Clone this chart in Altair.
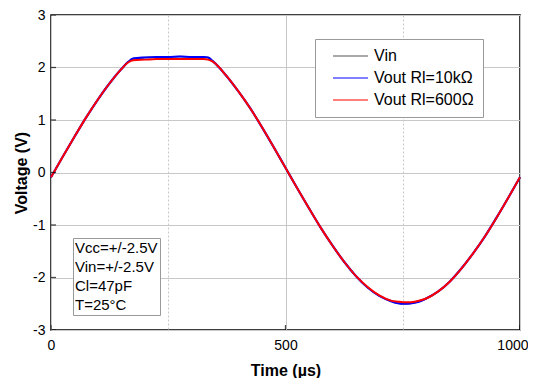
import altair as alt
import pandas as pd

# ---- data ----
time_us = [0, 25, 50, 75, 100, 125, 150, 165, 175, 200, 225, 250, 275, 300, 325, 335, 345,
           375, 400, 425, 450, 475, 500, 525, 550, 575, 600, 625, 650, 675, 700, 725, 740,
           750, 760, 775, 790, 800, 825, 850, 875, 900, 925, 950, 975, 1000]
vin = [-0.09, 0.30, 0.68, 1.05, 1.39, 1.70, 1.97, 2.11, 2.17, 2.19, 2.20, 2.20, 2.21, 2.20, 2.20, 2.19, 2.12,
       1.83, 1.54, 1.22, 0.86, 0.48, 0.09, -0.30, -0.68, -1.05, -1.39, -1.70, -1.97, -2.19, -2.35, -2.45, -2.49,
       -2.50, -2.50, -2.48, -2.44, -2.40, -2.27, -2.08, -1.83, -1.54, -1.22, -0.86, -0.48, -0.09]
vout_10k = [-0.09, 0.30, 0.68, 1.05, 1.39, 1.70, 1.97, 2.11, 2.17, 2.19, 2.20, 2.20, 2.21, 2.20, 2.20, 2.19, 2.12,
            1.83, 1.54, 1.22, 0.86, 0.48, 0.09, -0.30, -0.68, -1.05, -1.39, -1.70, -1.97, -2.19, -2.35, -2.45, -2.49,
            -2.50, -2.50, -2.48, -2.44, -2.40, -2.27, -2.08, -1.83, -1.54, -1.22, -0.86, -0.48, -0.09]
vout_600 = [-0.09, 0.30, 0.68, 1.05, 1.39, 1.70, 1.97, 2.10, 2.14, 2.15, 2.16, 2.16, 2.16, 2.16, 2.16, 2.15, 2.11,
            1.83, 1.54, 1.22, 0.86, 0.48, 0.09, -0.30, -0.68, -1.05, -1.39, -1.70, -1.97, -2.18, -2.34, -2.44, -2.46,
            -2.47, -2.47, -2.46, -2.43, -2.40, -2.27, -2.08, -1.83, -1.54, -1.22, -0.86, -0.48, -0.09]

series_names = ["Vin", "Vout Rl=10kΩ", "Vout Rl=600Ω"]
series_colors = ["#555555", "#0000ff", "#ff0000"]
series_widths = [1.5, 2.2, 2.0]

x_ticks = [0, 250, 500, 750, 1000]
x_major = [0, 500, 1000]
y_ticks = [-3, -2.5, -2, -1.5, -1, -0.5, 0, 0.5, 1, 1.5, 2, 2.5, 3]
y_major = [-3, -2, -1, 0, 1, 2, 3]

notes = ["Vcc=+/-2.5V", "Vin=+/-2.5V", "Cl=47pF", "T=25°C"]

rows = []
for name, vals in zip(series_names, [vin, vout_10k, vout_600]):
    for t, v in zip(time_us, vals):
        rows.append({"t": t, "v": v, "s": name})
df = pd.DataFrame(rows)

FONT = "Liberation Sans"
xscale = alt.Scale(domain=[0, 1000], nice=False)
yscale = alt.Scale(domain=[-3, 3], nice=False)

x_axis = alt.Axis(
    title="Time (µs)", values=x_ticks,
    labelExpr="datum.value % 500 === 0 ? toString(datum.value) : ''",
    grid=True, gridColor="#c8c8c8", gridWidth=1,
    gridDash=alt.condition("datum.value % 500 !== 0", alt.value([2, 2]), alt.value([])),
    ticks=False, tickSize=0, domain=False, labelFlush=False, labelOverlap=False,
    labelAlign=alt.condition("datum.value === 1000", alt.value("right"), alt.value("center")),
    labelOffset=alt.condition("datum.value === 1000", alt.value(8), alt.value(0)),
    labelFont=FONT, labelFontSize=14, labelColor="black", labelPadding=8,
    titleFont=FONT, titleFontSize=16, titleFontWeight="bold", titleColor="black", titlePadding=10,
)
y_axis = alt.Axis(
    title="Voltage (V)", values=y_ticks,
    labelExpr="datum.value % 1 === 0 ? toString(datum.value) : ''",
    grid=True, gridColor="#c8c8c8", gridWidth=1,
    gridDash=alt.condition("datum.value % 1 !== 0", alt.value([2, 2]), alt.value([])),
    ticks=False, tickSize=0, domain=False, labelOverlap=False, labelFlush=False,
    labelFont=FONT, labelFontSize=14, labelColor="black", labelPadding=6,
    titleFont=FONT, titleFontSize=16, titleFontWeight="bold", titleColor="black", titlePadding=3,
)

color_legend = alt.Legend(
    title=None, orient="none", legendX=264, legendY=24,
    symbolType="M-2.5,0L2.5,0", symbolSize=196, symbolStrokeWidth=1.2,
    labelFont=FONT, labelFontSize=16, labelColor="black", labelOffset=15.5,
    labelExpr="datum.label + '  '",
    rowPadding=6, padding=9, symbolOffset=18.5,
    strokeColor="#999999", fillColor="white",
)

base = alt.Chart(df).encode(
    x=alt.X("t:Q", scale=xscale, axis=x_axis),
    y=alt.Y("v:Q", scale=yscale, axis=y_axis),
    color=alt.Color("s:N", scale=alt.Scale(domain=series_names, range=series_colors), legend=color_legend),
)

line_layers = [
    base.transform_filter(alt.datum.s == name).mark_line(strokeWidth=w, interpolate="monotone")
    for name, w in zip(series_names, series_widths)
]

ytick = alt.Chart(pd.DataFrame({"v": y_major})).mark_tick(
    orient="horizontal", size=10, thickness=1.3, color="black", clip=True
).encode(
    x=alt.XDatum(0),
    y=alt.Y("v:Q", scale=yscale),
)
xtick = alt.Chart(pd.DataFrame({"t": x_major})).mark_tick(
    orient="vertical", size=10, thickness=1.3, color="black", clip=True
).encode(
    x=alt.X("t:Q", scale=xscale),
    y=alt.YDatum(-3),
)

notes_layer = alt.Chart(pd.DataFrame({"note": notes})).mark_point(opacity=0).encode(
    shape=alt.Shape("note:N", scale=alt.Scale(domain=notes), legend=alt.Legend(
        title=None, orient="none", legendX=22, legendY=223,
        symbolSize=1, symbolOpacity=0, symbolStrokeWidth=0,
        labelOffset={"expr": "-15"}, symbolOffset=0,
        labelExpr="datum.label + ' '",
        labelFont=FONT, labelFontSize=15, labelColor="black",
        rowPadding=3, padding=2, strokeColor="#999999", fillColor="white",
    ))
)

chart = alt.layer(*line_layers, ytick, xtick, notes_layer).properties(
    width=469, height=315,
    padding={"left": 5, "top": 0, "right": 0, "bottom": 0},
).configure(
    font=FONT
).configure_view(
    stroke="black", strokeWidth=1.5
)

chart.save("out.html", embed_options={"renderer": "svg", "actions": False})
